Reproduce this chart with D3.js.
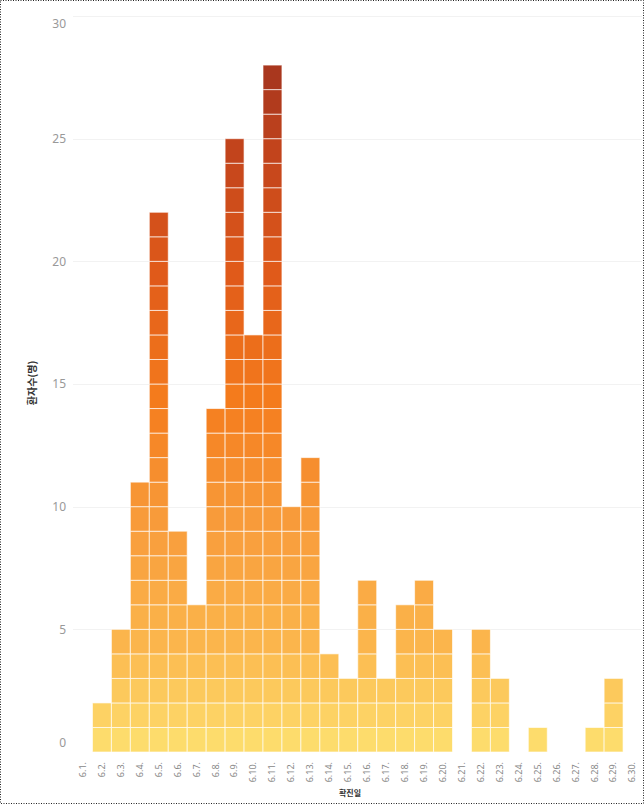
<!DOCTYPE html>
<html>
<head>
<meta charset="utf-8">
<script src="https://cdn.jsdelivr.net/npm/d3@7"></script>
<style>
  html, body { margin: 0; padding: 0; background: #fff; }
  svg { display: block; }
</style>
</head>
<body>
<svg id="chart" width="644" height="804"></svg>
<script>
const categories = ["6.1.","6.2.","6.3.","6.4.","6.5.","6.6.","6.7.","6.8.","6.9.","6.10.",
  "6.11.","6.12.","6.13.","6.14.","6.15.","6.16.","6.17.","6.18.","6.19.","6.20.",
  "6.21.","6.22.","6.23.","6.24.","6.25.","6.26.","6.27.","6.28.","6.29.","6.30."];
const cases = [0,2,5,11,22,9,6,14,25,17,28,10,12,4,3,7,3,6,7,5,0,5,3,0,1,0,0,1,3,0];
const yTicks = [0,5,10,15,20,25,30];
const colorStops = [1,5,10,15,20,25,28];
const colorValues = ["#fddc6c","#fbb54c","#f89b3a","#f47b1c","#e05a1a","#c2441c","#a9371e"];
const yTitle = "환자수(명)";
const xTitle = "확진일";

const svg = d3.select("#chart");
const x = d3.scaleBand().domain(categories).range([73.5, 642]).padding(0);
const y = d3.scaleLinear().domain([0, 30]).range([752, 16]);
const color = d3.scaleLinear().domain(colorStops).range(colorValues).clamp(true);

// border
svg.append("rect").attr("x",0.5).attr("y",0.5).attr("width",643).attr("height",803)
  .attr("fill","none").attr("stroke","#222").attr("stroke-dasharray","1,1.5");

// gridlines
svg.append("g").selectAll("line").data(yTicks.filter(d=>d>0)).join("line")
  .attr("x1",73).attr("x2",642).attr("y1",d=>Math.round(y(d))+0.5).attr("y2",d=>Math.round(y(d))+0.5)
  .attr("stroke","#f2f2f2").attr("stroke-width",1);

// cells
const cells = [];
categories.forEach((c,i)=>{ for(let k=1;k<=cases[i];k++) cells.push({c,k}); });
svg.append("g").selectAll("rect").data(cells).join("rect")
  .attr("x",d=>x(d.c)).attr("width",x.bandwidth())
  .attr("y",d=>y(d.k)).attr("height",d=>y(d.k-1)-y(d.k))
  .attr("fill",d=>color(d.k))
  .attr("stroke","rgba(255,255,255,0.65)").attr("stroke-width",1);

// y axis labels
const yAxis = d3.axisLeft(y).tickValues(yTicks).tickSize(0).tickPadding(0);
const gy = svg.append("g").attr("transform","translate(66,0)").call(yAxis);
gy.select(".domain").remove();
gy.selectAll("text").attr("fill","#999").style("font-family","'Noto Sans', sans-serif").style("font-size","12px")
  .attr("dy", d => d===0 ? "-0.45em" : d===30 ? "0.95em" : "0.32em");

// x axis labels
const xAxis = d3.axisBottom(x).tickSize(0).tickPadding(0);
const gx = svg.append("g").attr("transform","translate(0,760)").call(xAxis);
gx.select(".domain").remove();
gx.selectAll("text").attr("fill","#888").style("font-family","'Noto Sans', sans-serif").style("font-size","9px")
  .attr("transform","rotate(-90)").attr("text-anchor","end").attr("x",-2).attr("y",0).attr("dy","0.32em");

// titles
svg.append("text").attr("transform","translate(36,383) rotate(-90)").attr("text-anchor","middle")
  .style("font-family","'Noto Sans CJK KR', sans-serif").style("font-size","10px").style("font-weight","bold")
  .attr("fill","#333").text(yTitle);
svg.append("text").attr("x",350).attr("y",796).attr("text-anchor","middle")
  .style("font-family","'Noto Sans CJK KR', sans-serif").style("font-size","8px").style("font-weight","bold")
  .attr("fill","#333").text(xTitle);
</script>
</body>
</html>
